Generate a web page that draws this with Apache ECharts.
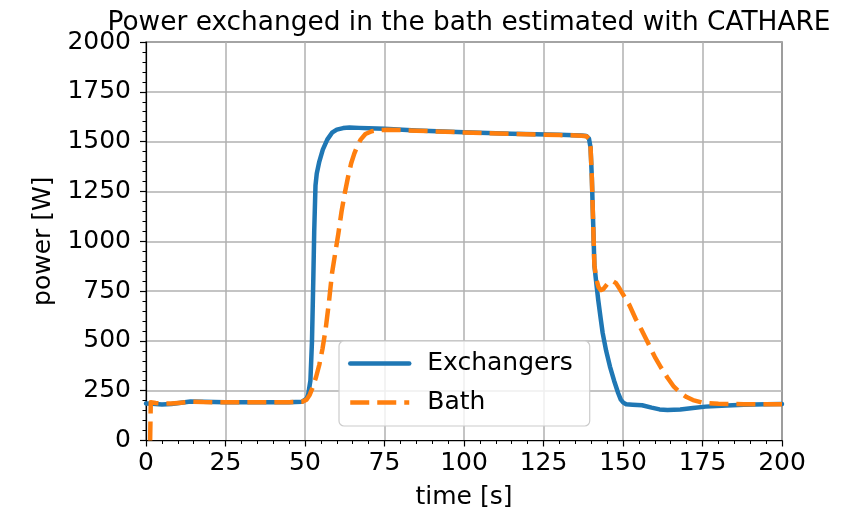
<!DOCTYPE html>
<html>
<head>
<meta charset="utf-8">
<script src="https://cdn.jsdelivr.net/npm/echarts@6/dist/echarts.min.js"></script>
<style>
  html, body { margin: 0; padding: 0; background: #fff; }
  #chart { width: 853px; height: 513px; }
</style>
</head>
<body>
<div id="chart"></div>
<script>
// Power exchanged in the bath (CATHARE estimate): exchangers vs bath, W over time in s
const exchTime = [0, 2, 5, 8, 11, 14, 18, 25, 35, 45, 49, 50.5, 51, 51.7, 52.2, 52.6, 52.9, 53.3, 53.7, 54.5, 55.6, 57, 58.5, 60, 62, 64, 67, 70, 75, 85, 100, 115, 130, 137, 138.5, 139.3, 139.8, 140.2, 140.6, 141, 141.6, 142.2, 143, 143.6, 144.7, 145.9, 147.2, 148.5, 149.3, 150.1, 151, 153, 156, 159, 161.5, 164, 168, 172, 176, 181, 188, 195, 200];
const exchPower = [186, 184, 181, 183, 189, 196, 194, 192, 192, 192, 194, 210, 230, 300, 500, 800, 1050, 1280, 1340, 1400, 1460, 1510, 1545, 1560, 1568, 1571, 1569, 1567, 1564, 1556, 1547, 1540, 1534, 1531, 1528, 1515, 1470, 1320, 1100, 880, 790, 706, 610, 540, 450, 371, 300, 237, 205, 190, 182, 180, 177, 165, 156, 153, 156, 163, 170, 175, 179, 182, 183];

const bathTime = [1.3, 1.5, 3, 5, 8, 11, 14, 18, 25, 35, 45, 49, 50.5, 51.5, 52.5, 53.5, 54.5, 55.5, 56.5, 57.5, 58.5, 59.5, 60.5, 61.5, 62.5, 63.5, 64.5, 65.5, 66.5, 67.5, 69, 71, 73, 76, 85, 100, 115, 130, 137, 138.5, 139.3, 139.8, 140.2, 140.6, 141, 141.6, 142.3, 143, 143.8, 144.8, 145.8, 146.8, 147.8, 149, 150.5, 152, 154, 156, 158, 160, 162, 164, 166, 168, 170, 172, 175, 180, 188, 195, 200];
const bathPower = [0, 192, 188, 185, 186, 190, 195, 193, 192, 192, 192, 194, 205, 230, 270, 320, 380, 460, 560, 690, 840, 940, 1040, 1150, 1240, 1320, 1390, 1440, 1480, 1510, 1538, 1552, 1558, 1560, 1555, 1546, 1539, 1533, 1530, 1527, 1515, 1470, 1320, 1100, 880, 810, 770, 755, 760, 780, 798, 800, 790, 760, 720, 680, 610, 550, 485, 420, 365, 315, 270, 240, 218, 203, 190, 184, 182, 182, 182];

const seriesNames = ['Exchangers', 'Bath'];
const xTicks = { min: 0, max: 200, step: 25 };
const yTicks = { min: 0, max: 2000, step: 250 };

const pairs = (xs, ys) => xs.map((x, i) => [x, ys[i]]);
const FONT = 'DejaVu Sans';

const chart = echarts.init(document.getElementById('chart'), null, { renderer: 'canvas' });
chart.setOption({
  animation: false,
  backgroundColor: '#ffffff',
  title: {
    text: 'Power exchanged in the bath estimated with CATHARE',
    left: 464, top: 5, textAlign: 'center',
    textStyle: { fontFamily: FONT, fontSize: 26.4, fontWeight: 'normal', color: '#000' }
  },
  grid: {
    left: 146, top: 42, right: 71, bottom: 72.5,
    outerBoundsMode: 'none', containLabel: false,
    show: true, borderColor: '#000', borderWidth: 1.2, backgroundColor: 'transparent'
  },
  legend: {
    data: seriesNames,
    orient: 'vertical',
    left: 339, top: 341,
    padding: [10, 17, 11, 9],
    itemWidth: 59, itemHeight: 14, itemGap: 14,
    backgroundColor: 'rgba(255,255,255,0.8)',
    borderColor: '#cccccc', borderWidth: 1.2, borderRadius: 5,
    itemStyle: { color: 'rgba(0,0,0,0)', borderWidth: 0, opacity: 0 },
    lineStyle: { width: 4.5 },
    textStyle: { fontFamily: FONT, fontSize: 25, color: '#000', padding: [0, 0, 0, 13] }
  },
  xAxis: {
    type: 'value', min: xTicks.min, max: xTicks.max, interval: xTicks.step,
    name: 'time [s]', nameLocation: 'middle', nameGap: 44,
    nameTextStyle: { fontFamily: FONT, fontSize: 25, color: '#000' },
    axisLine: { show: true, onZero: false, lineStyle: { color: '#000', width: 1.2 } },
    axisTick: { show: true, length: 6, lineStyle: { color: '#000', width: 1.2 } },
    minorTick: { show: true, splitNumber: 5, length: 3.5, lineStyle: { color: '#000', width: 1 } },
    axisLabel: { fontFamily: FONT, fontSize: 25, color: '#000', margin: 10, formatter: v => String(v) },
    splitLine: { show: true, lineStyle: { color: '#b0b0b0', width: 1.5 } }
  },
  yAxis: {
    type: 'value', min: yTicks.min, max: yTicks.max, interval: yTicks.step,
    name: 'power [W]', nameLocation: 'middle', nameGap: 88, nameRotate: 90,
    nameTextStyle: { fontFamily: FONT, fontSize: 25, color: '#000' },
    axisLine: { show: true, onZero: false, lineStyle: { color: '#000', width: 1.2 } },
    axisTick: { show: true, length: 6, lineStyle: { color: '#000', width: 1.2 } },
    minorTick: { show: true, splitNumber: 5, length: 3.5, lineStyle: { color: '#000', width: 1 } },
    axisLabel: { fontFamily: FONT, fontSize: 25, color: '#000', margin: 15, padding: [3, 0, 0, 0], formatter: v => String(v) },
    splitLine: { show: true, lineStyle: { color: '#b0b0b0', width: 1.5 } }
  },
  series: [
    {
      name: seriesNames[0], type: 'line', data: pairs(exchTime, exchPower),
      symbol: 'none', smooth: false,
      lineStyle: { color: '#1f77b4', width: 4.5, join: 'round', cap: 'round' },
      itemStyle: { color: '#1f77b4' }
    },
    {
      name: seriesNames[1], type: 'line', data: pairs(bathTime, bathPower),
      symbol: 'none', smooth: false,
      lineStyle: { color: '#ff7f0e', width: 4.5, type: [19, 8], join: 'round' },
      itemStyle: { color: '#ff7f0e' }
    }
  ]
});
</script>
</body>
</html>
